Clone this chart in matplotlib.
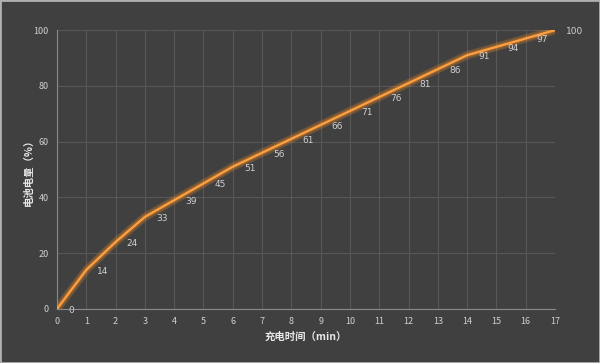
import numpy as np
import matplotlib.pyplot as plt

plt.rcParams['font.family'] = ['Noto Sans CJK SC', 'DejaVu Sans']

# charge time (min) vs battery level (%)
minutes = [0, 1, 2, 3, 4, 5, 6, 7, 8, 9, 10, 11, 12, 13, 14, 15, 16, 17]
battery = [0, 14, 24, 33, 39, 45, 51, 56, 61, 66, 71, 76, 81, 86, 91, 94, 97, 100]

bg = '#404040'
txt = '#d0d0d0'

fig = plt.figure(figsize=(6, 3.63), dpi=100, facecolor=bg)
ax = fig.add_axes([0.095, 0.149, 0.83, 0.768])
ax.set_facecolor(bg)

# soft glow under the line
ax.plot(minutes, battery, color='#f08a24', lw=6, alpha=0.25, solid_capstyle='round', zorder=2)
ax.plot(minutes, battery, color='#f08a24', lw=3.5, alpha=0.3, solid_capstyle='round', zorder=2)
ax.plot(minutes, battery, color='#ffa040', lw=1.6, zorder=3)

for x, y in zip(minutes, battery):
    ax.annotate(str(y), (x, y), xytext=(8, -1), textcoords='offset points',
                ha='left', va='center', color=txt, fontsize=6.5, family='DejaVu Sans')

ax.set_xlim(0, 17)
ax.set_ylim(0, 100)
ax.set_xticks(range(0, 18))
ax.set_yticks(range(0, 101, 20))
ax.grid(color='#575757', lw=0.8)
ax.set_axisbelow(True)
for s in ['top', 'right']:
    ax.spines[s].set_visible(False)
for s in ['left', 'bottom']:
    ax.spines[s].set_color('#8a8a8a')
ax.tick_params(length=0, colors=txt, labelsize=6.5, pad=6)

ax.set_xlabel('充电时间（min）', color='#e8e8e8', fontsize=7.5, fontweight='bold', labelpad=4)
ax.set_ylabel('电池电量（%）', color='#e8e8e8', fontsize=7.5, fontweight='bold', labelpad=0)

# light frame around the picture
fig.patches.append(plt.Rectangle((0, 0), 1, 1, transform=fig.transFigure,
                                 fill=False, edgecolor='#b0b0b0', lw=2))

fig.savefig('out.png', dpi=100, facecolor=bg)
